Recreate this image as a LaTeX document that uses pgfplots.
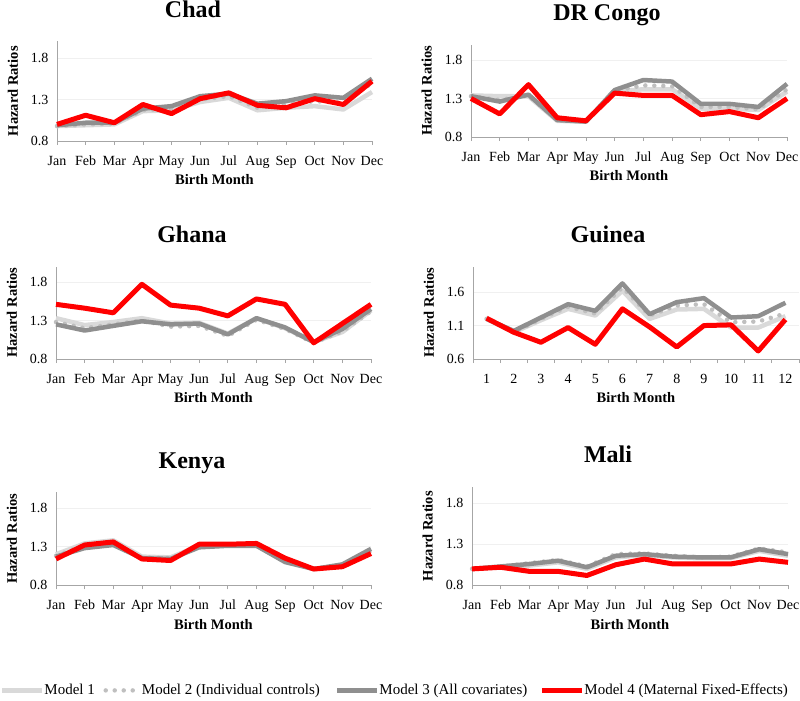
\documentclass[border=0pt]{standalone}
\usepackage{fontspec}
\setmainfont{Liberation Serif}
\usepackage{pgfplots}
\pgfplotsset{compat=1.18}
\definecolor{mone}{HTML}{D9D9D9}
\definecolor{mtwo}{HTML}{BFBFBF}
\definecolor{mthree}{HTML}{8F8F8F}
\definecolor{mfour}{HTML}{FF0000}
\definecolor{axisgray}{HTML}{A6A6A6}
\pgfplotsset{
  panel/.style={
    scale only axis, anchor=south west,
    axis lines=left, axis line style={-, draw=axisgray, line width=0.8pt},
    enlargelimits=false, clip=false,
    xmin=1, xmax=12, xtick={1,...,12},
    xticklabels={Jan,Feb,Mar,Apr,May,Jun,Jul,Aug,Sep,Oct,Nov,Dec},
    xtick align=outside, major tick length=4pt,
    x tick style={draw=axisgray, line width=0.8pt},
    ytick style={draw=none},
    ymajorgrids, grid style={draw=black!6, line width=0.6pt},
    tick label style={font=\fontsize{14}{16}\selectfont},
    /pgf/number format/assume math mode=true,
    /pgf/number format/fixed, /pgf/number format/precision=1,
    /pgf/number format/fixed zerofill,
    xticklabel style={anchor=base, yshift=-20pt},
    yticklabel style={anchor=east, xshift=-3pt},
    xlabel={Birth Month}, ylabel={Hazard Ratios},
    xlabel style={font=\bfseries\fontsize{14.5}{16}\selectfont, at={(axis description cs:0.5,0)}, anchor=center, yshift=-39pt},
    ylabel style={font=\bfseries\fontsize{14.5}{16}\selectfont, anchor=center},
    title style={font=\bfseries\fontsize{24}{28}\selectfont, at={(axis description cs:0.5,1)}, anchor=base, yshift=18pt},
  },
  m1/.style={mone, line width=4.5pt, line join=round},
  m2/.style={mtwo, line width=4.5pt, line join=round, line cap=round, dash pattern=on 0pt off 9pt},
  m3/.style={mthree, line width=4.5pt, line join=round},
  m4/.style={mfour, line width=5pt, line join=round},
  leglong/.style={legend image code/.code={\draw[##1] (0pt,0pt) -- (40pt,0pt);}},
  legdots/.style={legend image code/.code={\draw[##1] (3pt,0pt) -- (37pt,0pt);}},
}
\begin{document}
\begin{tikzpicture}
\useasboundingbox (0pt,0pt) rectangle (800pt,-701pt);

% Chad
\begin{axis}[panel, at={(57pt,-141pt)}, width=315pt, height=99.6pt,
  ymin=0.8, ymax=2.0, ytick={0.8,1.3,1.8}, title={Chad},
  title style={xshift=-21.5pt}, ylabel style={at={(axis description cs:-0.14,0.5)}}]
\addplot[m1] coordinates {(1,0.98)(2,0.99)(3,1.00)(4,1.16)(5,1.17)(6,1.27)(7,1.32)(8,1.17)(9,1.20)(10,1.22)(11,1.18)(12,1.39)};
\addplot[m2] coordinates {(1,0.98)(2,1.00)(3,1.01)(4,1.17)(5,1.19)(6,1.30)(7,1.34)(8,1.20)(9,1.24)(10,1.28)(11,1.26)(12,1.50)};
\addplot[m3] coordinates {(1,0.99)(2,1.02)(3,1.02)(4,1.19)(5,1.22)(6,1.34)(7,1.37)(8,1.25)(9,1.28)(10,1.35)(11,1.32)(12,1.55)};
\addplot[m4] coordinates {(1,1.00)(2,1.11)(3,1.02)(4,1.24)(5,1.13)(6,1.31)(7,1.38)(8,1.23)(9,1.20)(10,1.31)(11,1.24)(12,1.52)};
\end{axis}

% DR Congo
\begin{axis}[panel, at={(471pt,-137pt)}, width=316pt, height=92.4pt,
  ymin=0.8, ymax=2.0, ytick={0.8,1.3,1.8}, title={DR Congo},
  title style={xshift=-22pt}, ylabel style={at={(axis description cs:-0.14,0.5)}}]
\addplot[m1] coordinates {(1,1.34)(2,1.33)(3,1.33)(4,1.01)(5,1.00)(6,1.39)(7,1.42)(8,1.42)(9,1.17)(10,1.17)(11,1.15)(12,1.39)};
\addplot[m2] coordinates {(1,1.33)(2,1.28)(3,1.34)(4,1.02)(5,1.00)(6,1.40)(7,1.47)(8,1.46)(9,1.19)(10,1.19)(11,1.16)(12,1.42)};
\addplot[m3] coordinates {(1,1.33)(2,1.26)(3,1.35)(4,1.02)(5,1.00)(6,1.41)(7,1.54)(8,1.52)(9,1.23)(10,1.23)(11,1.19)(12,1.49)};
\addplot[m4] coordinates {(1,1.30)(2,1.10)(3,1.48)(4,1.05)(5,1.01)(6,1.37)(7,1.34)(8,1.34)(9,1.09)(10,1.13)(11,1.05)(12,1.30)};
\end{axis}

% Ghana
\begin{axis}[panel, at={(56pt,-359pt)}, width=315pt, height=92.4pt,
  ymin=0.8, ymax=2.0, ytick={0.8,1.3,1.8}, title={Ghana},
  title style={xshift=-21.5pt}, ylabel style={at={(axis description cs:-0.14,0.5)}}]
\addplot[m1] coordinates {(1,1.33)(2,1.24)(3,1.28)(4,1.33)(5,1.26)(6,1.27)(7,1.13)(8,1.33)(9,1.20)(10,1.02)(11,1.15)(12,1.43)};
\addplot[m2] coordinates {(1,1.28)(2,1.20)(3,1.25)(4,1.30)(5,1.22)(6,1.23)(7,1.10)(8,1.31)(9,1.19)(10,1.01)(11,1.16)(12,1.42)};
\addplot[m3] coordinates {(1,1.25)(2,1.17)(3,1.23)(4,1.29)(5,1.25)(6,1.26)(7,1.12)(8,1.33)(9,1.21)(10,1.02)(11,1.19)(12,1.45)};
\addplot[m4] coordinates {(1,1.51)(2,1.46)(3,1.40)(4,1.77)(5,1.50)(6,1.46)(7,1.36)(8,1.58)(9,1.51)(10,1.01)(11,1.26)(12,1.51)};
\end{axis}

% Guinea
\begin{axis}[panel, at={(473pt,-359pt)}, width=326pt, height=92.3pt,
  xmin=0.5, xmax=12.5, xtick={1,...,12},
  xticklabels={1,2,3,4,5,6,7,8,9,10,11,12},
  major x tick style={draw=none},
  minor xtick={0.5,1.5,...,12.5}, minor tick length=4pt,
  minor x tick style={draw=axisgray, line width=0.8pt},
  ymin=0.6, ymax=1.98, ytick={0.6,1.1,1.6}, title={Guinea},
  title style={xshift=-28pt}, ylabel style={at={(axis description cs:-0.135,0.5)}}]
\addplot[m1] coordinates {(1,1.20)(2,1.00)(3,1.18)(4,1.35)(5,1.25)(6,1.62)(7,1.20)(8,1.34)(9,1.35)(10,1.07)(11,1.07)(12,1.24)};
\addplot[m2] coordinates {(1,1.20)(2,1.00)(3,1.20)(4,1.38)(5,1.28)(6,1.67)(7,1.25)(8,1.40)(9,1.42)(10,1.15)(11,1.16)(12,1.28)};
\addplot[m3] coordinates {(1,1.20)(2,1.02)(3,1.22)(4,1.42)(5,1.32)(6,1.73)(7,1.27)(8,1.45)(9,1.51)(10,1.22)(11,1.24)(12,1.44)};
\addplot[m4] coordinates {(1,1.21)(2,1.00)(3,0.85)(4,1.07)(5,0.82)(6,1.35)(7,1.08)(8,0.78)(9,1.10)(10,1.11)(11,0.72)(12,1.19)};
\end{axis}

% Kenya (carries the legend)
\begin{axis}[panel, at={(56pt,-585.3pt)}, width=315pt, height=93pt,
  ymin=0.8, ymax=2.0, ytick={0.8,1.3,1.8}, title={Kenya},
  title style={xshift=-21.5pt}, ylabel style={at={(axis description cs:-0.14,0.5)}},
  legend columns=4,
  legend style={draw=none, fill=none, inner sep=0pt, outer sep=0pt,
    at={(axis description cs:-0.1778,-1.13)}, anchor=west,
    font=\fontsize{15}{17}\selectfont,
    nodes={inner sep=0pt},
    /tikz/every odd column/.append style={column sep=0pt}},
  ]
\addplot[m1, leglong] coordinates {(1,1.20)(2,1.34)(3,1.38)(4,1.17)(5,1.16)(6,1.31)(7,1.32)(8,1.32)(9,1.12)(10,1.01)(11,1.06)(12,1.25)};
\addlegendentry{\makebox[59pt][l]{Model 1}}
\addplot[m2, legdots] coordinates {(1,1.18)(2,1.32)(3,1.35)(4,1.16)(5,1.15)(6,1.30)(7,1.32)(8,1.32)(9,1.11)(10,1.01)(11,1.06)(12,1.26)};
\addlegendentry{\makebox[193pt][l]{Model 2 (Individual controls)}}
\addplot[m3, leglong] coordinates {(1,1.17)(2,1.28)(3,1.32)(4,1.15)(5,1.14)(6,1.29)(7,1.31)(8,1.31)(9,1.10)(10,1.01)(11,1.07)(12,1.27)};
\addlegendentry{\makebox[160pt][l]{Model 3 (All covariates)}}
\addplot[m4, leglong] coordinates {(1,1.14)(2,1.32)(3,1.36)(4,1.14)(5,1.12)(6,1.33)(7,1.33)(8,1.34)(9,1.15)(10,1.01)(11,1.04)(12,1.21)};
\addlegendentry{Model 4 (Maternal Fixed-Effects)}
\end{axis}

% Mali
\begin{axis}[panel, at={(472pt,-585.3pt)}, width=316pt, height=98.4pt,
  ymin=0.8, ymax=2.0, ytick={0.8,1.3,1.8}, title={Mali},
  title style={xshift=-22pt}, ylabel style={at={(axis description cs:-0.14,0.5)}}]
\addplot[m1] coordinates {(1,1.00)(2,1.02)(3,1.04)(4,1.08)(5,1.00)(6,1.14)(7,1.17)(8,1.14)(9,1.13)(10,1.13)(11,1.22)(12,1.16)};
\addplot[m2] coordinates {(1,1.00)(2,1.03)(3,1.07)(4,1.11)(5,1.03)(6,1.18)(7,1.19)(8,1.16)(9,1.14)(10,1.15)(11,1.25)(12,1.20)};
\addplot[m3] coordinates {(1,1.00)(2,1.03)(3,1.06)(4,1.10)(5,1.02)(6,1.16)(7,1.18)(8,1.15)(9,1.14)(10,1.14)(11,1.24)(12,1.18)};
\addplot[m4] coordinates {(1,1.00)(2,1.02)(3,0.97)(4,0.97)(5,0.92)(6,1.05)(7,1.12)(8,1.06)(9,1.06)(10,1.06)(11,1.12)(12,1.08)};
\end{axis}
\end{tikzpicture}
\end{document}
